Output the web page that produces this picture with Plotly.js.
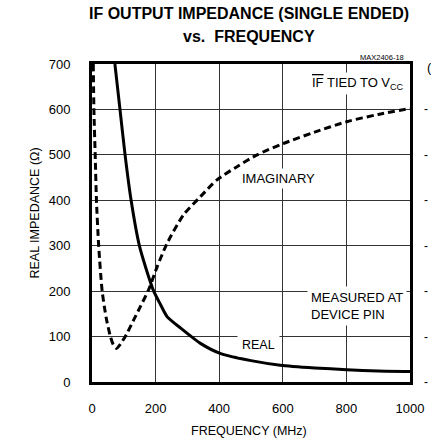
<!DOCTYPE html>
<html>
<head>
<meta charset="utf-8">
<script src="https://cdn.plot.ly/plotly-3.0.1.min.js"></script>
<style>html,body{margin:0;padding:0;background:#fff;}#chart{width:431px;height:442px;}</style>
</head>
<body>
<div id="chart"></div>
<script>
// Real part of IF output impedance (ohms) vs frequency (MHz)
const realFreq = [72, 88, 104, 123, 149, 172, 194, 215, 236, 278, 341, 403, 500, 592, 700, 801, 900, 1000];
const realVal  = [700, 600, 500, 400, 300, 245, 200, 171, 144, 119, 85, 63, 47, 37, 31, 27, 24, 23];

// Imaginary part
const imagFreq = [4, 6, 10, 14, 21, 32, 45, 58, 67, 77, 90, 110, 130, 152, 178, 205, 236, 288, 341, 393, 456, 519, 602, 700, 801, 900, 1000];
const imagVal  = [700, 600, 500, 400, 300, 200, 140, 100, 82, 74, 84, 107, 135, 166, 203, 254, 305, 368, 408, 445, 474, 500, 525, 550, 573, 589, 602];

const xTicks = [0, 200, 400, 600, 800, 1000];
const yTicks = [0, 100, 200, 300, 400, 500, 600, 700];
const rightTickVals = [0, 100, 200, 300, 400, 500, 600];

const titleLine1 = 'IF OUTPUT IMPEDANCE (SINGLE ENDED)';
const titleLine2 = 'vs.  FREQUENCY';
const xTitle = 'FREQUENCY (MHz)';
const yTitle = 'REAL IMPEDANCE (Ω)';

const FONT = 'Liberation Sans, Arial, Helvetica, sans-serif';

const traces = [
  {
    x: imagFreq, y: imagVal, type: 'scatter', mode: 'lines',
    line: {color: '#000', width: 3, dash: '7px,4px', shape: 'spline', smoothing: 0.7},
    hoverinfo: 'skip', showlegend: false
  },
  {
    x: realFreq, y: realVal, type: 'scatter', mode: 'lines',
    line: {color: '#000', width: 3, shape: 'spline', smoothing: 0.6},
    hoverinfo: 'skip', showlegend: false
  }
];

const annotations = [
  {text: '<b>' + titleLine1 + '</b>', xref: 'paper', yref: 'paper', x: 0.4945, y: 1.160,
   xanchor: 'center', yanchor: 'middle', showarrow: false, font: {family: FONT, size: 16, color: '#000'}},
  {text: '<b>' + titleLine2 + '</b>', xref: 'paper', yref: 'paper', x: 0.4945, y: 1.088,
   xanchor: 'center', yanchor: 'middle', showarrow: false, font: {family: FONT, size: 16, color: '#000'}},
  {text: yTitle, xref: 'paper', yref: 'paper', x: -0.179, y: 0.53, textangle: -90,
   xanchor: 'center', yanchor: 'middle', showarrow: false, font: {family: FONT, size: 12.5, color: '#000'}},
  {text: xTitle, xref: 'paper', yref: 'paper', x: 0.4945, y: -0.154,
   xanchor: 'center', yanchor: 'middle', showarrow: false, font: {family: FONT, size: 12.5, color: '#000'}},
  {text: 'MAX2406-18', xref: 'paper', yref: 'paper', x: 0.988, y: 1.022,
   xanchor: 'right', yanchor: 'middle', showarrow: false, font: {family: FONT, size: 7.5, color: '#000'}},
  {text: '<span style="text-decoration:overline">IF</span> TIED TO V<sub>CC</sub>', xref: 'x', yref: 'y', x: 682, y: 656,
   xanchor: 'left', yanchor: 'middle', showarrow: false, bgcolor: '#fff', borderpad: 2,
   font: {family: FONT, size: 13, color: '#000'}},
  {text: 'IMAGINARY', xref: 'x', yref: 'y', x: 463, y: 449,
   xanchor: 'left', yanchor: 'middle', showarrow: false, bgcolor: '#fff', borderpad: 2,
   font: {family: FONT, size: 13, color: '#000'}},
  {text: 'MEASURED AT<br>DEVICE PIN', xref: 'x', yref: 'y', x: 675, y: 167, align: 'left',
   xanchor: 'left', yanchor: 'middle', showarrow: false, bgcolor: '#fff', borderpad: 3,
   font: {family: FONT, size: 13, color: '#000'}},
  {text: 'REAL', xref: 'x', yref: 'y', x: 522, y: 81,
   xanchor: 'center', yanchor: 'middle', showarrow: false, bgcolor: '#fff', borderpad: 4,
   font: {family: FONT, size: 12.5, color: '#000'}},
  {text: '(', xref: 'paper', yref: 'paper', x: 1.061, y: 0.99,
   xanchor: 'center', yanchor: 'middle', showarrow: false, font: {family: FONT, size: 13, color: '#000'}}
];
rightTickVals.forEach(v => annotations.push({
  text: '-', xref: 'paper', yref: 'y', x: 1.051, y: v, xanchor: 'center', yanchor: 'middle',
  showarrow: false, font: {family: FONT, size: 12, color: '#000'}
}));

const layout = {
  width: 431, height: 442,
  margin: {l: 92, r: 21, t: 64, b: 60, pad: 0},
  paper_bgcolor: '#fff', plot_bgcolor: '#fff',
  font: {family: FONT, size: 13, color: '#000'},
  showlegend: false,
  xaxis: {
    range: [0, 1000], tickvals: xTicks, ticktext: xTicks.map(String),
    showgrid: true, gridcolor: '#333', gridwidth: 1, zeroline: false,
    showline: true, linecolor: '#000', linewidth: 3, mirror: true,
    ticks: '', ticklabelstandoff: 12, tickfont: {family: FONT, size: 13, color: '#000'},
    fixedrange: true
  },
  yaxis: {
    range: [0, 700], tickvals: yTicks, ticktext: yTicks.map(String),
    showgrid: true, gridcolor: '#333', gridwidth: 1, zeroline: false,
    showline: true, linecolor: '#000', linewidth: 3, mirror: true,
    ticks: '', ticklabelstandoff: 16, tickfont: {family: FONT, size: 13, color: '#000'},
    fixedrange: true
  },
  annotations: annotations
};

Plotly.newPlot('chart', traces, layout, {displayModeBar: false, staticPlot: true});
</script>
</body>
</html>
